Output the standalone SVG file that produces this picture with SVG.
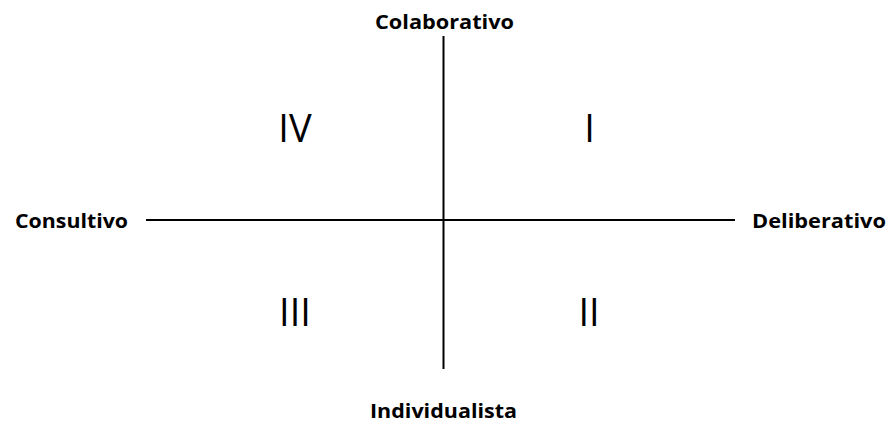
<svg xmlns="http://www.w3.org/2000/svg" width="890" height="430" viewBox="0 0 890 430">
<style>
.axis{stroke:#000;stroke-width:2;fill:none}
.lbl{font-family:"Open Sans","Liberation Sans",sans-serif;font-weight:bold;font-size:20px;fill:#000}
.num{font-family:"Open Sans","Liberation Sans",sans-serif;font-size:38px;fill:#000;text-anchor:middle}
</style>
<rect width="890" height="430" fill="#fff"/>
<g id="connectors">
<line class="axis" x1="443.5" y1="36" x2="443.5" y2="369"/>
<line class="axis" x1="146" y1="220" x2="735" y2="220"/>
</g>
<g id="colaborativo"><text class="lbl" x="375" y="29" textLength="139" lengthAdjust="spacingAndGlyphs">Colaborativo</text></g>
<g id="consultivo"><text class="lbl" x="15" y="228" textLength="113" lengthAdjust="spacingAndGlyphs">Consultivo</text></g>
<g id="deliberativo"><text class="lbl" x="752" y="228" textLength="134" lengthAdjust="spacingAndGlyphs">Deliberativo</text></g>
<g id="individualista"><text class="lbl" x="370" y="418" textLength="147" lengthAdjust="spacingAndGlyphs">Individualista</text></g>
<g id="q4"><text class="num" x="295" y="142">IV</text></g>
<g id="q1"><text class="num" x="589.5" y="142">I</text></g>
<g id="q3"><text class="num" x="295" y="326">III</text></g>
<g id="q2"><text class="num" x="589" y="326">II</text></g>
</svg>
